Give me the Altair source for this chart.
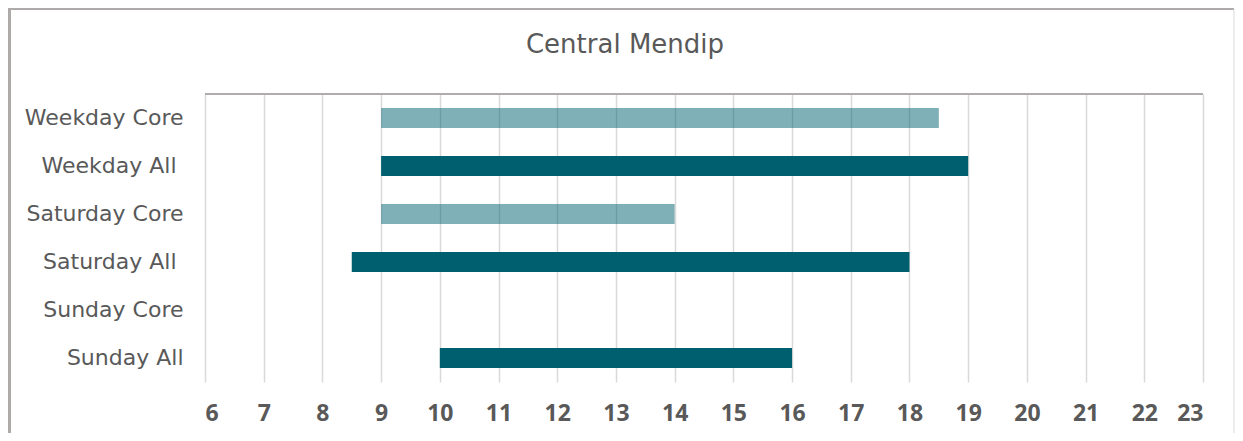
import altair as alt
import pandas as pd

categories = ["Weekday Core", "Weekday All\u00a0\u200d", "Saturday Core", "Saturday All\u00a0\u200d", "Sunday Core", "Sunday All"]
kinds = ["Core", "All", "Core", "All", "Core", "All"]
starts = [9, 9, 9, 8.5, None, 10]
ends = [18.5, 19, 14, 18, None, 16]
hours = list(range(6, 24))
title_text = "Central Mendip"

rows = [
    {"cat": c, "kind": k, "start": s, "end": e}
    for c, k, s, e in zip(categories, kinds, starts, ends)
    if s is not None
]
df = pd.DataFrame(rows)

W, H = 998, 288
DARK = "#005F6F"
TXT = "#595959"

bars = alt.Chart(df).mark_bar(size=20, color=DARK).encode(
    x=alt.X("start:Q", scale=alt.Scale(domain=[6, 23], nice=False, zero=False),
            axis=alt.Axis(values=hours, title=None, grid=True, gridColor="#d9d9d9",
                          gridWidth=1.5, domain=False, ticks=False, labelPadding=20,
                          labelFont="Open Sans", labelFontSize=23, labelFontWeight="bold",
                          labelColor=TXT, labelBaseline="top")),
    x2="end:Q",
    y=alt.Y("cat:N", scale=alt.Scale(domain=categories, paddingInner=0, paddingOuter=0),
            axis=alt.Axis(title=None, domain=False, ticks=False, grid=False, labelPadding=22,
                          labelFont="DejaVu Sans", labelFontSize=22, labelColor=TXT)),
    opacity=alt.Opacity("kind:N", scale=alt.Scale(domain=["Core", "All"], range=[0.5, 1.0]),
                        legend=None),
)

one = alt.Data(values=[{"t": title_text}])
title = alt.Chart(one).mark_text(font="DejaVu Sans", fontSize=26, color=TXT,
                                 align="center", baseline="alphabetic").encode(
    text="t:N", x=alt.value(420), y=alt.value(-41)
)
top_line = alt.Chart(one).mark_rule(color="#b0acac", strokeWidth=2).encode(
    x=alt.value(0), x2=alt.value(W), y=alt.value(0)
)
frame_left = alt.Chart(one).mark_rule(color="#aeaaaa", strokeWidth=3).encode(
    x=alt.value(-195.5), y=alt.value(-85), y2=alt.value(H + 51)
)
frame_top = alt.Chart(one).mark_rule(color="#aeaaaa", strokeWidth=2).encode(
    x=alt.value(-197), x2=alt.value(W + 31), y=alt.value(-85)
)
frame_right = alt.Chart(one).mark_rule(color="#d9d9d9", strokeWidth=1).encode(
    x=alt.value(W + 31), y=alt.value(-85), y2=alt.value(H + 51)
)

chart = alt.layer(bars, top_line, frame_left, frame_top, frame_right, title).properties(
    width=W, height=H,
    autosize=alt.AutoSizeParams(type="none"),
    padding={"left": 197, "top": 86, "right": 32, "bottom": 51},
).configure(background="white", view=alt.ViewConfig(stroke="transparent", strokeWidth=0))

chart.save("out.html", embed_options={"renderer": "svg", "actions": False})
